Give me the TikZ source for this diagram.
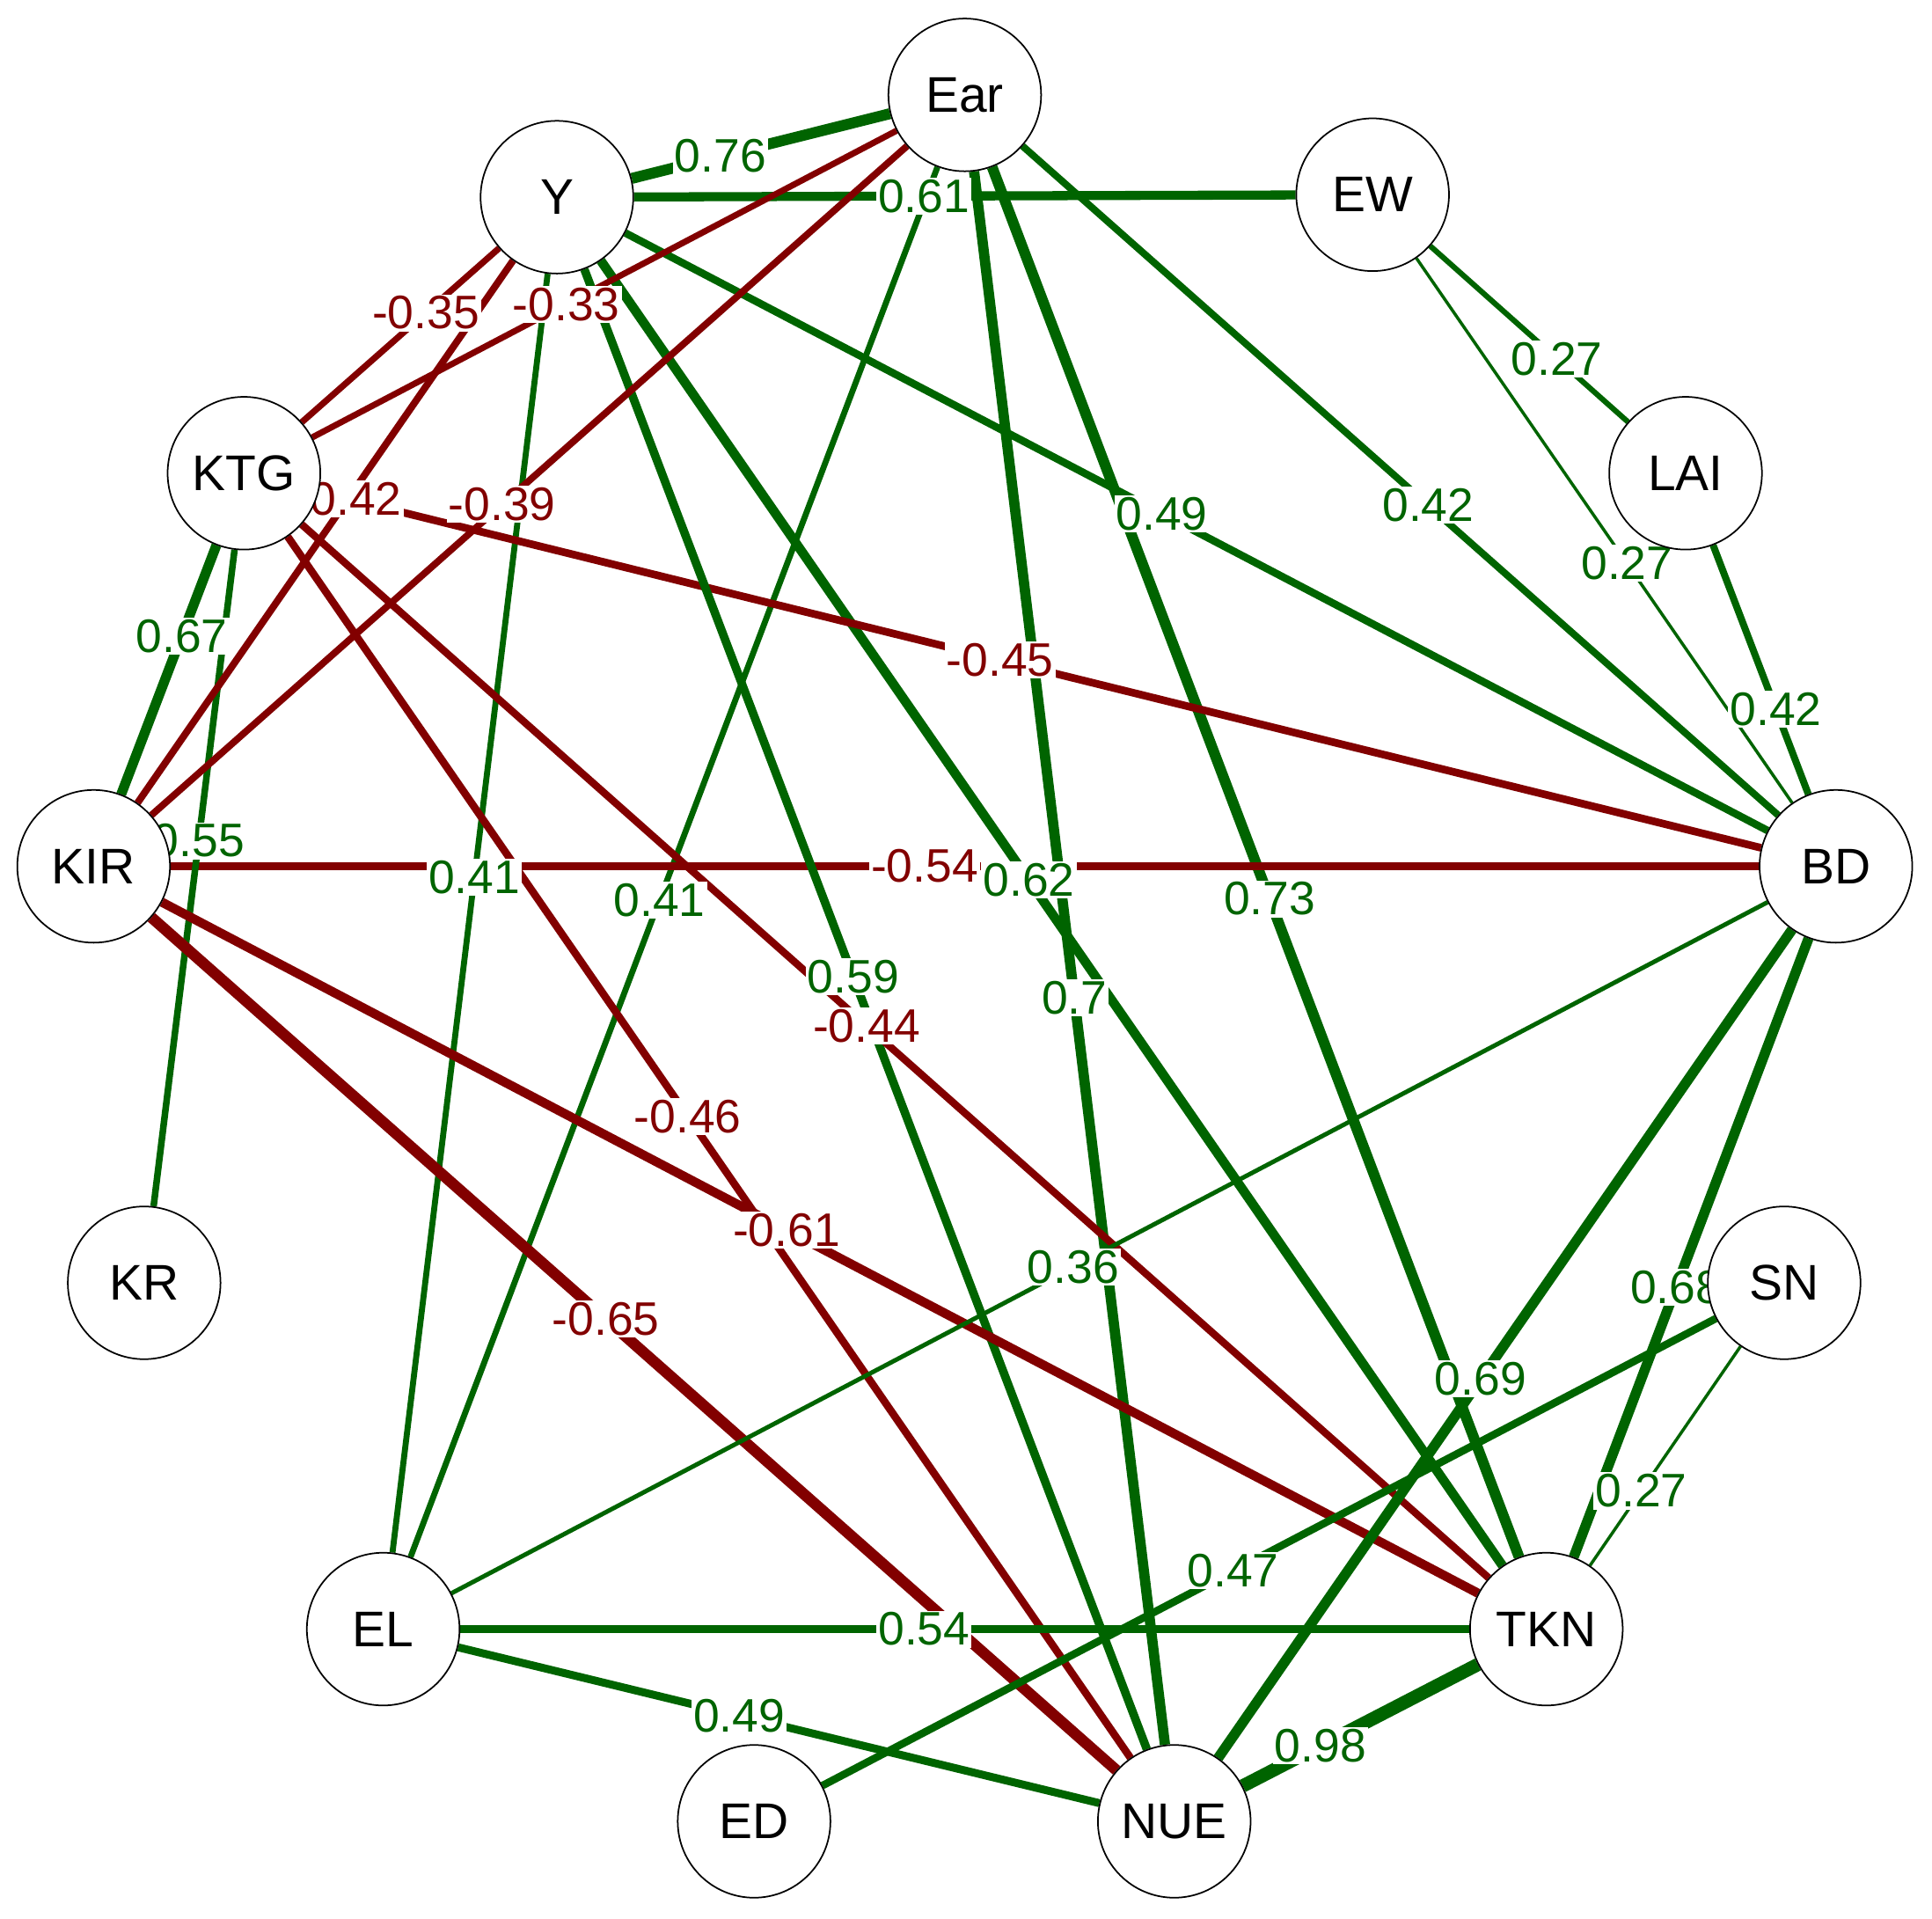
\documentclass[tikz,border=0pt]{standalone}
\usepackage{fontspec}
\setmainfont{Liberation Sans}
\usetikzlibrary{calc}
\pgfdeclarelayer{edges}
\pgfdeclarelayer{labels}
\pgfsetlayers{edges,labels,main}
\definecolor{gc}{RGB}{0,100,0}
\definecolor{rc}{RGB}{130,0,0}
\tikzset{
  vert/.style={circle, draw=black, line width=0.5pt, fill=white, minimum size=1.736cm, inner sep=0pt, font=\fontsize{16.2}{19}\selectfont},
  lab/.style={fill=white, inner sep=0.6pt, font=\fontsize{15.2}{18}\selectfont}
}
% #1 colour, #2 from, #3 to, #4 width (reference pixels), #5 label position, #6 label
\newcommand{\cedge}[6]{%
  \begin{pgfonlayer}{edges}
    \draw[draw=#1, line width=#4*0.2846pt] (#2) -- (#3);
  \end{pgfonlayer}
  \begin{pgfonlayer}{labels}
    \node[lab, text=#1] at ($(#2)!#5!(#3)$) {#6};
  \end{pgfonlayer}}
\begin{document}
\begin{tikzpicture}[x=0.014cm, y=-0.014cm]
\useasboundingbox (0,0) rectangle (1568,1557);
\node[vert] (Ear) at (783,77) {Ear};
\node[vert] (Y) at (452,160) {Y};
\node[vert] (EW) at (1114,158) {EW};
\node[vert] (KTG) at (198,384) {KTG};
\node[vert] (LAI) at (1368,384) {LAI};
\node[vert] (KIR) at (76,703) {KIR};
\node[vert] (BD) at (1490,703) {BD};
\node[vert] (KR) at (117,1041) {KR};
\node[vert] (SN) at (1448,1041) {SN};
\node[vert] (EL) at (311,1322) {EL};
\node[vert] (TKN) at (1255,1322) {TKN};
\node[vert] (ED) at (612,1478) {ED};
\node[vert] (NUE) at (953,1478) {NUE};
\cedge{gc}{Y}{Ear}{12.4}{0.401}{0.76}
\cedge{gc}{Y}{EW}{10.3}{0.450}{0.61}
\cedge{gc}{Ear}{EL}{6.8}{0.525}{0.41}
\cedge{gc}{Y}{EL}{6.8}{0.475}{0.41}
\cedge{gc}{Y}{TKN}{10.7}{0.477}{0.62}
\cedge{gc}{Ear}{NUE}{11.7}{0.523}{0.7}
\cedge{gc}{Ear}{TKN}{12.1}{0.524}{0.73}
\cedge{gc}{Ear}{BD}{8.0}{0.532}{0.42}
\cedge{gc}{Y}{BD}{8.6}{0.473}{0.49}
\cedge{gc}{EW}{LAI}{6.2}{0.589}{0.27}
\cedge{gc}{EW}{BD}{3.5}{0.549}{0.27}
\cedge{gc}{LAI}{BD}{8.0}{0.600}{0.42}
\cedge{rc}{KTG}{BD}{8.7}{0.475}{-0.45}
\cedge{rc}{KIR}{BD}{9.8}{0.477}{-0.54}
\cedge{gc}{KTG}{KIR}{11.3}{0.414}{0.67}
\cedge{gc}{KTG}{KR}{7.5}{0.454}{0.55}
\cedge{gc}{Y}{NUE}{9.6}{0.480}{0.59}
\cedge{rc}{KTG}{TKN}{8.4}{0.478}{-0.44}
\cedge{rc}{KTG}{NUE}{8.6}{0.477}{-0.46}
\cedge{rc}{KIR}{TKN}{10.4}{0.477}{-0.61}
\cedge{rc}{KIR}{NUE}{12.6}{0.474}{-0.65}
\cedge{gc}{BD}{EL}{5.0}{0.525}{0.36}
\cedge{gc}{BD}{NUE}{11.6}{0.537}{0.69}
\cedge{gc}{BD}{TKN}{11.5}{0.552}{0.68}
\cedge{gc}{SN}{TKN}{3.5}{0.601}{0.27}
\cedge{gc}{SN}{ED}{8.6}{0.535}{0.47}
\cedge{gc}{EL}{TKN}{9.0}{0.465}{0.54}
\cedge{gc}{EL}{NUE}{9.0}{0.450}{0.49}
\cedge{gc}{TKN}{NUE}{15.1}{0.607}{0.98}
\cedge{rc}{Ear}{KTG}{7.0}{0.553}{-0.33}
\cedge{rc}{Y}{KTG}{7.2}{0.419}{-0.35}
\cedge{rc}{Y}{KIR}{8.0}{0.451}{-0.42}
\cedge{rc}{Ear}{KIR}{7.8}{0.531}{-0.39}
\end{tikzpicture}
\end{document}
